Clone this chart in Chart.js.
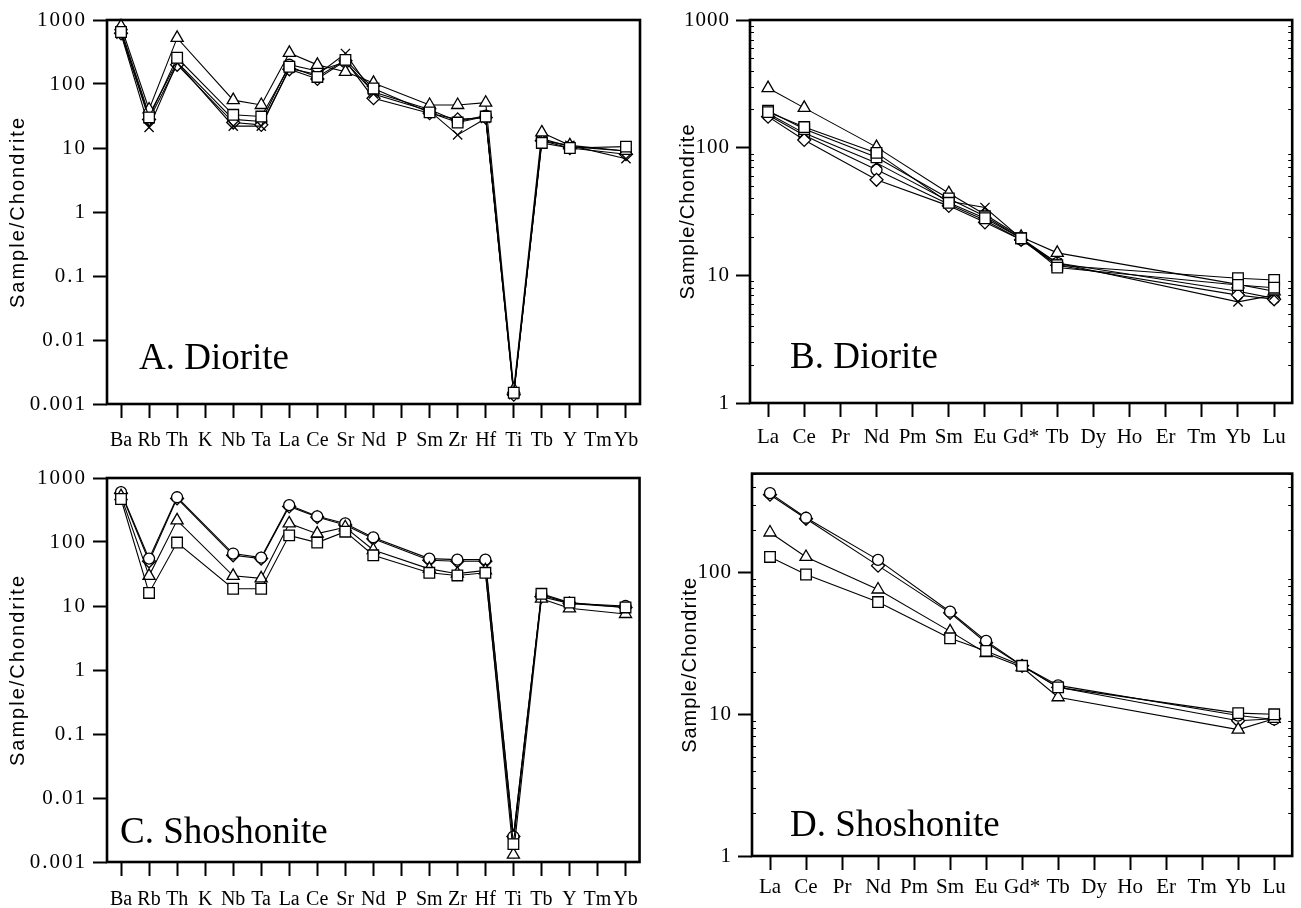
<!DOCTYPE html>
<html>
<head>
<meta charset="utf-8">
<title>Sample/Chondrite</title>
<script src="https://cdn.jsdelivr.net/npm/chart.js@4.4.1/dist/chart.umd.min.js"></script>
<style>
html,body{margin:0;padding:0;background:#fff;}
#wrap{position:relative;width:1301px;height:908px;overflow:hidden;background:#fff;}
#wrap canvas{position:absolute;}
.lbl{position:absolute;font-family:"Liberation Serif","Times New Roman",serif;font-size:37px;line-height:37px;color:#000;white-space:nowrap;}
</style>
</head>
<body>
<div id="wrap">
  <canvas id="cA" width="650" height="455" style="left:0;top:0;width:650px;height:455px"></canvas>
  <canvas id="cB" width="651" height="455" style="left:650px;top:0;width:651px;height:455px"></canvas>
  <canvas id="cC" width="650" height="453" style="left:0;top:455px;width:650px;height:453px"></canvas>
  <canvas id="cD" width="651" height="453" style="left:650px;top:455px;width:651px;height:453px"></canvas>
  <div class="lbl" style="left:139px;top:338px">A. Diorite</div>
  <div class="lbl" style="left:790px;top:337px">B. Diorite</div>
  <div class="lbl" style="left:120px;top:812px">C. Shoshonite</div>
  <div class="lbl" style="left:790px;top:805px">D. Shoshonite</div>
</div>
<script>
'use strict';

/* ── categories and tick labels ── */
var SPIDER_EL=['Ba','Rb','Th','K','Nb','Ta','La','Ce','Sr','Nd','P','Sm','Zr','Hf','Ti','Tb','Y','Tm','Yb'];
var REE_EL=['La','Ce','Pr','Nd','Pm','Sm','Eu','Gd*','Tb','Dy','Ho','Er','Tm','Yb','Lu'];
var SPIDER_TICKS=[0.001,0.01,0.1,1,10,100,1000];
var REE_TICKS=[1,10,100,1000];

/* ── A. Diorite, spider diagram ── */
var A_SQ =[650,30,257,null,33,31,186,129,238,85,null,36,25,31,0.0015,12,10,null,10.5];
var A_TRI=[800,40,525,null,56,47,306,199,155,104,null,47,47,51,0.0017,17.5,11,null,9];
var A_X  =[600,21,214,null,22,22,175,140,300,70,null,38,16,29,0.0014,13,11,null,6.8];
var A_DIA=[620,28,200,null,25,23,170,120,230,60,null,35,28,30,0.0014,13,10,null,8];
var A_CIR=[700,33,220,null,28,26,200,160,220,75,null,40,26,32,0.0015,14,10.5,null,9];

/* ── B. Diorite, REE ── */
var B_SQ =[190,145,null,91,null,37,28,19.5,11.5,null,null,null,null,8.4,8];
var B_SQP=[195,140,null,84,null,40,29,19.5,12,null,null,null,null,9.5,9.2];
var B_TRI=[293,205,null,101,null,44,30,20,15,null,null,null,null,8.5,7.5];
var B_X  =[185,130,null,76,null,38,34,19.5,12.5,null,null,null,null,6.2,7];
var B_DIA=[175,115,null,56,null,35,26,19,12,null,null,null,null,7,6.5];
var B_CIR=[180,125,null,67,null,36,27,19,12.5,null,null,null,null,7.5,6.6];

/* ── C. Shoshonite, spider diagram ── */
var C_SQ =[470,16,98,null,18.6,18.6,127,98,145,62,null,33,30,33,0.0019,15.5,11.3,null,9.5];
var C_TRI=[520,29.6,218,null,29.6,27,195,135,170,75,null,38,32,36,0.0013,13,9.2,null,7.5];
var C_CIR=[600,55,500,null,66,57,376,252,195,118,null,55,53,53,0.0025,15,11,null,10];
var C_DIA=[580,50,480,null,62,55,360,245,185,112,null,52,50,50,0.0025,14,11,null,9.5];

/* ── D. Shoshonite, REE ── */
var D_SQ =[129,97,null,62,null,34.4,28,22,15.5,null,null,null,null,10.2,10];
var D_TRI=[192,129,null,76,null,38.5,27,21.5,13.2,null,null,null,null,7.8,9.3];
var D_CIR=[364,244,null,123,null,53,33,22,16,null,null,null,null,9.8,9.2];
var D_DIA=[355,240,null,112,null,52,32,22,15.5,null,null,null,null,9,9.3];

var SERIF='"Liberation Serif","Times New Roman",serif';
var SANS='"Liberation Sans",Arial,sans-serif';
var MARK={rect:7.5,triangle:7,circle:5.5,rectRot:6.5,crossRot:6.5};

function series(data,style){
  return {data:data,pointStyle:style,pointRadius:MARK[style],pointHoverRadius:MARK[style],
    pointBackgroundColor:'#fff',pointBorderColor:'#000',pointBorderWidth:1.3,
    borderColor:'#000',borderWidth:1.1,tension:0,spanGaps:true,fill:false,clip:false};
}

function isDecade(v){var l=Math.log10(v);return Math.abs(l-Math.round(l))<1e-6;}

/* frame round the plot, small inside log ticks, wide y-axis lettering
   (y axis text sits on layer z=1, drawn after the datasets) */
var framePlugin={
  id:'frame',
  afterDatasetsDraw:function(ch,args,o){ch.ctx.letterSpacing=o.ls+'px';},
  afterDraw:function(ch,args,o){
    var a=ch.chartArea,c=ch.ctx,y=ch.scales.y;
    c.letterSpacing='0px';
    c.save();
    c.strokeStyle='#000';
    if(o.minor){
      c.lineWidth=1;
      var e0=Math.floor(Math.log10(y.min)),e1=Math.ceil(Math.log10(y.max));
      for(var e=e0;e<e1;e++){
        for(var k=2;k<10;k++){
          var v=k*Math.pow(10,e);if(v<y.min||v>y.max)continue;
          var py=Math.round(y.getPixelForValue(v))+0.5;
          c.beginPath();c.moveTo(a.left,py);c.lineTo(a.left+4,py);
          c.moveTo(a.right,py);c.lineTo(a.right-4,py);c.stroke();
        }
      }
    }
    c.lineWidth=2.6;
    c.strokeRect(a.left,a.top,a.right-a.left,a.bottom-a.top);
    c.restore();
  }
};

function makePanel(id,labels,sets,o){
  var yt=o.ticks.filter(function(v){return v>=o.min&&v<=o.max;});
  return new Chart(document.getElementById(id),{
    type:'line',
    data:{labels:labels,datasets:sets},
    plugins:[framePlugin],
    options:{
      responsive:false,animation:false,
      layout:{padding:o.pad},
      plugins:{legend:{display:false},tooltip:{enabled:false},frame:{minor:o.minor,ls:o.ls}},
      scales:{
        x:{type:'category',offset:true,
          border:{display:false},
          grid:{display:true,drawOnChartArea:false,drawTicks:true,tickLength:14,tickWidth:2,color:'#000'},
          ticks:{autoSkip:false,maxRotation:0,minRotation:0,padding:o.xPad,color:'#000',font:{family:SERIF,size:o.xFont}},
          afterFit:function(s){s.height=o.xh;}
        },
        y:{type:'logarithmic',min:o.min,max:o.max,
          border:{display:false},
          grid:{display:true,z:1,drawOnChartArea:false,drawTicks:true,tickLength:14,tickWidth:2,color:'#000'},
          ticks:{z:1,padding:6,color:'#000',font:{family:SERIF,size:o.yFont},
            callback:function(v){return isDecade(v)?String(v):'';}},
          afterBuildTicks:function(s){s.ticks=yt.map(function(v){return {value:v,major:true};});},
          title:{display:true,text:'Sample/Chondrite',color:'#000',padding:{top:o.tp,bottom:0},font:{family:SANS,size:o.tFont}},
          afterFit:function(s){s.width=o.yw;}
        }
      }
    }
  });
}

makePanel('cA',SPIDER_EL,
  [series(A_SQ,'rect'),series(A_TRI,'triangle'),series(A_X,'crossRot'),series(A_DIA,'rectRot'),series(A_CIR,'circle')],
  {min:0.001,max:1000,ticks:SPIDER_TICKS,pad:{left:0,right:10,top:20,bottom:0},yw:107,xh:51,tp:6,xPad:11,xFont:20,yFont:21,tFont:20,ls:2,minor:false});

makePanel('cB',REE_EL,
  [series(B_SQ,'rect'),series(B_SQP,'rect'),series(B_TRI,'triangle'),series(B_X,'crossRot'),series(B_DIA,'rectRot'),series(B_CIR,'circle')],
  {min:1,max:1000,ticks:REE_TICKS,pad:{left:24,right:4,top:20,bottom:0},yw:76,xh:52,tp:2,xPad:8,xFont:21,yFont:21,tFont:20,ls:1,minor:true});

makePanel('cC',SPIDER_EL,
  [series(C_SQ,'rect'),series(C_TRI,'triangle'),series(C_CIR,'circle'),series(C_DIA,'rectRot')],
  {min:0.001,max:1000,ticks:SPIDER_TICKS,pad:{left:0,right:10,top:23,bottom:0},yw:107,xh:46,tp:6,xPad:12,xFont:20,yFont:21,tFont:20,ls:2,minor:false});

makePanel('cD',REE_EL,
  [series(D_SQ,'rect'),series(D_TRI,'triangle'),series(D_CIR,'circle'),series(D_DIA,'rectRot')],
  {min:1,max:500,ticks:REE_TICKS,pad:{left:26,right:4,top:17,bottom:0},yw:76,xh:52,tp:2,xPad:5,xFont:21,yFont:21,tFont:20,ls:1,minor:true});
</script>
</body>
</html>
